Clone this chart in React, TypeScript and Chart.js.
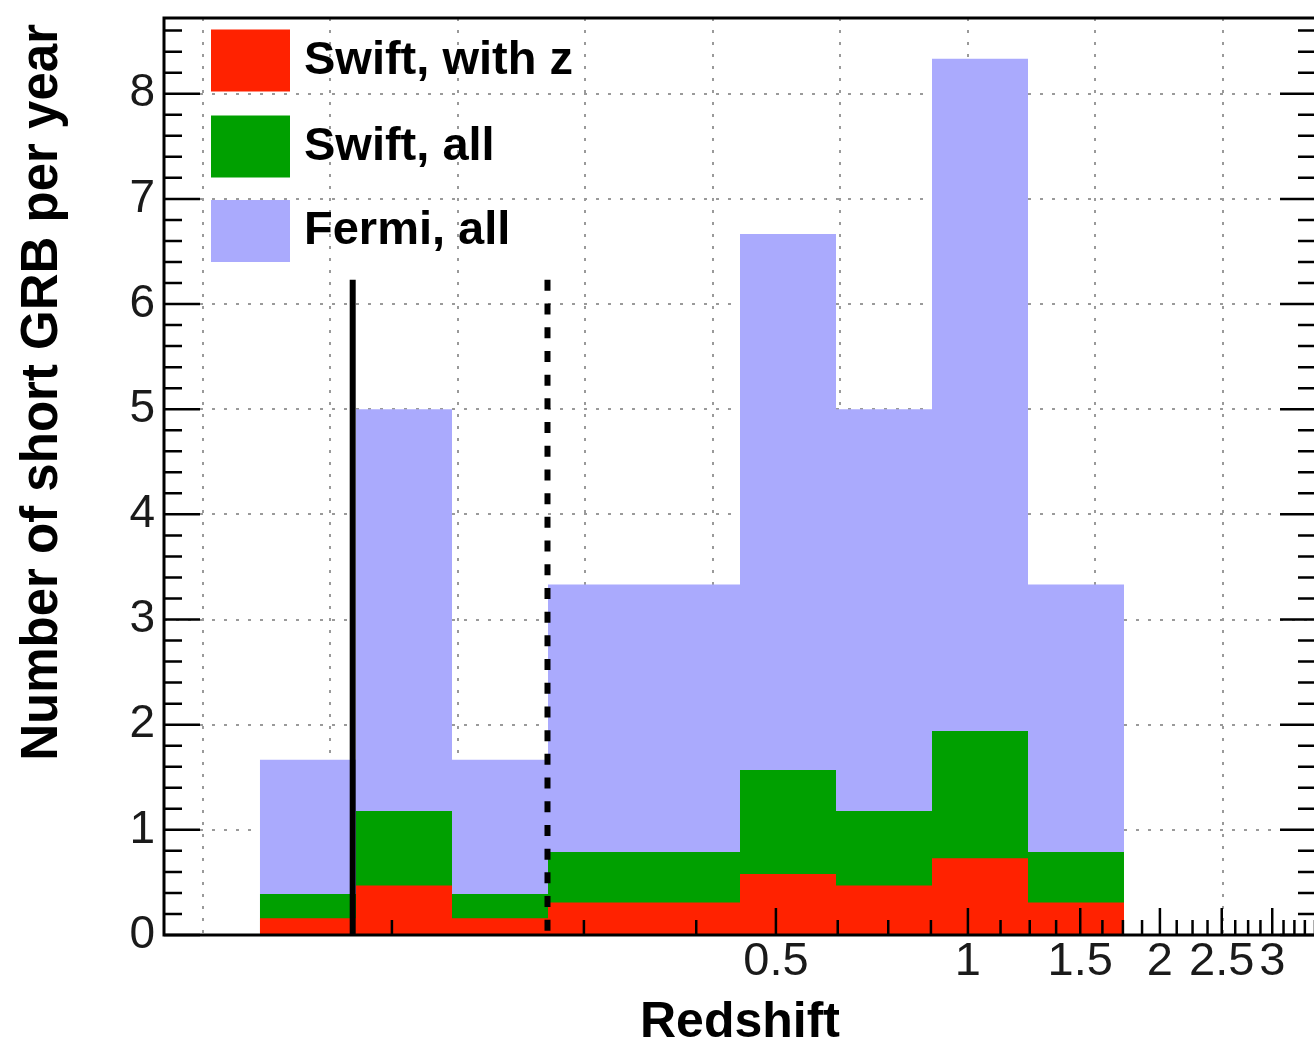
import React, { useEffect, useRef } from 'react';
import { Chart, registerables } from 'chart.js';

Chart.register(...registerables);

// ---- data ----
const binEdges = [0.0776, 0.1098, 0.1553, 0.2196, 0.3106, 0.4392, 0.6211, 0.8784, 1.2422, 1.7568];
const fermiAll = [1.667, 5.0, 1.667, 3.333, 3.333, 6.667, 5.0, 8.333, 3.333];
const swiftAll = [0.39, 1.18, 0.39, 0.79, 0.79, 1.57, 1.18, 1.94, 0.79];
const swiftWithZ = [0.16, 0.47, 0.16, 0.31, 0.31, 0.58, 0.47, 0.73, 0.31];
const seriesLabels = ['Swift, with z', 'Swift, all', 'Fermi, all'];
const seriesColors = ['#ff2200', '#00a000', '#aaaafd'];

const xRange = [0.0549, 3.5136];
const yRange = [0, 8.72];
const xGridValues = [0.0631, 0.1, 0.1585, 0.2512, 0.3981, 0.631, 1, 1.585, 2.512];
const xLabelValues = [0.5, 1, 1.5, 2, 2.5, 3];
const xLabelTexts = ['0.5', '1', '1.5', '2', '2.5', '3'];
const xMinorStep = 0.125;
const yMinorStep = 0.2;
const horizonLines = [0.1085, 0.2192]; // solid, dashed
const horizonTop = 6.23;
const xTitle = 'Redshift';
const yTitle = 'Number of short GRB per year';

const FONT = "'Liberation Sans', Arial, Helvetica, sans-serif";

function steps(values: number[]) {
  const pts = values.map((v, i) => ({ x: binEdges[i], y: v }));
  pts.push({ x: binEdges[values.length], y: values[values.length - 1] });
  return pts;
}

const rootFrame = {
  id: 'rootFrame',
  afterDatasetsDraw(chart: any) {
    const { ctx, chartArea: a, scales } = chart;
    const xs = scales.x;
    const ys = scales.y;
    ctx.save();
    ctx.strokeStyle = '#000';
    ctx.lineCap = 'butt';
    // x ticks (inward, bottom)
    ctx.lineWidth = 2.5;
    for (const t of xs.ticks) {
      const px = xs.getPixelForValue(t.value);
      const len = t.major ? 27 : 15;
      ctx.beginPath();
      ctx.moveTo(px, a.bottom);
      ctx.lineTo(px, a.bottom - len);
      ctx.stroke();
    }
    // y ticks (inward, left and right)
    const nMax = Math.floor(ys.max / yMinorStep + 1e-6);
    for (let n = 0; n <= nMax; n++) {
      const v = n * yMinorStep;
      const py = ys.getPixelForValue(v);
      const len = n % 5 === 0 ? 36 : 18;
      ctx.beginPath();
      ctx.moveTo(a.left, py);
      ctx.lineTo(a.left + len, py);
      ctx.moveTo(a.right, py);
      ctx.lineTo(a.right - len, py);
      ctx.stroke();
    }
    // frame
    ctx.lineWidth = 3;
    ctx.strokeRect(a.left, a.top, a.right - a.left, a.bottom - a.top);

    // legend inside the frame
    const entries = chart.data.datasets.filter((d: any) => seriesLabels.includes(d.label));
    const rowCenters = [60.5, 146.5, 231];
    ctx.font = `bold 47px ${FONT}`;
    ctx.textAlign = 'left';
    ctx.textBaseline = 'alphabetic';
    entries.forEach((d: any, i: number) => {
      const cy = rowCenters[i];
      ctx.fillStyle = d.backgroundColor;
      ctx.fillRect(a.left + 47, cy - 31, 79, 62);
      ctx.fillStyle = '#000';
      ctx.fillText(d.label, a.left + 140, cy + 13);
    });

    // y-axis title (ROOT style, aligned to top end)
    ctx.save();
    ctx.translate(57, 24);
    ctx.rotate(-Math.PI / 2);
    ctx.font = `bold 51px ${FONT}`;
    ctx.textAlign = 'right';
    ctx.textBaseline = 'alphabetic';
    ctx.fillStyle = '#000';
    ctx.fillText(yTitle, 0, 0);
    ctx.restore();

    ctx.restore();
  },
};

export default function App() {
  const ref = useRef<HTMLCanvasElement>(null);

  useEffect(() => {
    const canvas = ref.current!;
    const seriesData = [swiftWithZ, swiftAll, fermiAll];
    const chart = new Chart(canvas, {
      type: 'line',
      data: {
        datasets: [
          {
            label: '_solid',
            data: [{ x: horizonLines[0], y: horizonTop }, { x: horizonLines[0], y: 0 }],
            borderColor: '#000',
            borderWidth: 6,
            pointRadius: 0,
            fill: false,
          },
          {
            label: '_dashed',
            data: [{ x: horizonLines[1], y: horizonTop }, { x: horizonLines[1], y: 0 }],
            borderColor: '#000',
            borderWidth: 6,
            borderDash: [11, 12.7],
            pointRadius: 0,
            fill: false,
          },
          ...seriesData.map((vals, i) => ({
            label: seriesLabels[i],
            data: steps(vals),
            stepped: 'before' as const,
            fill: 'origin',
            backgroundColor: seriesColors[i],
            borderColor: 'rgba(0,0,0,0)',
            borderWidth: 0,
            pointRadius: 0,
          })),
        ] as any,
      },
      options: {
        animation: false,
        responsive: false,
        events: [],
        layout: { padding: { top: 18, right: 2, bottom: 0, left: 0 } },
        plugins: {
          legend: { display: false },
          tooltip: { enabled: false },
        },
        scales: {
          x: {
            type: 'logarithmic',
            position: 'bottom',
            min: xRange[0],
            max: xRange[1],
            bounds: 'data',
            afterBuildTicks: (s: any) => {
              const ticks: any[] = [];
              for (let n = 1; n * xMinorStep <= s.max + 1e-9; n++) {
                const v = n * xMinorStep;
                ticks.push({ value: v, major: xLabelValues.some((l) => Math.abs(l - v) < 1e-9) });
              }
              s.ticks = ticks;
            },
            grid: { display: false, drawTicks: false },
            border: { display: false },
            ticks: {
              autoSkip: false,
              maxRotation: 0,
              minRotation: 0,
              padding: 4,
              color: '#1a1a1a',
              font: { family: FONT, size: 47, lineHeight: 1 },
              callback: (val: any) => {
                const idx = xLabelValues.findIndex((l) => Math.abs(l - Number(val)) < 1e-9);
                return idx >= 0 ? xLabelTexts[idx] : '';
              },
            },
            title: {
              display: true,
              text: xTitle,
              color: '#000',
              font: { family: FONT, size: 50, weight: 'bold', lineHeight: 0.84 },
              padding: { top: 0, bottom: 0 },
            },
            afterFit: (s: any) => {
              s.height = 109;
              s.paddingLeft = 0;
              s.paddingRight = 0;
            },
          } as any,
          xg: {
            type: 'logarithmic',
            position: 'bottom',
            min: xRange[0],
            max: xRange[1],
            bounds: 'data',
            afterBuildTicks: (s: any) => {
              s.ticks = xGridValues.map((v) => ({ value: v }));
            },
            ticks: { display: false },
            grid: { color: '#9a9a9a', lineWidth: 2, drawTicks: false },
            border: { display: false, dash: [3, 9] },
            afterFit: (s: any) => {
              s.height = 0;
              s.paddingLeft = 0;
              s.paddingRight = 0;
            },
          } as any,
          y: {
            type: 'linear',
            min: yRange[0],
            max: yRange[1],
            bounds: 'data',
            ticks: {
              stepSize: 1,
              includeBounds: false,
              padding: 9,
              color: '#1a1a1a',
              font: { family: FONT, size: 46 },
            },
            grid: { color: '#9a9a9a', lineWidth: 2, drawTicks: false },
            border: { display: false, dash: [3, 9] },
            afterFit: (s: any) => {
              s.width = 164;
              s.paddingTop = 0;
              s.paddingBottom = 0;
            },
          } as any,
        },
      } as any,
      plugins: [rootFrame],
    });
    return () => chart.destroy();
  }, []);

  return (
    <div
      style={{
        position: 'fixed',
        left: 0,
        top: 0,
        width: 1314,
        height: 1044,
        overflow: 'hidden',
        background: '#fff',
      }}
    >
      <canvas ref={ref} width={1318} height={1044} style={{ display: 'block', width: 1318, height: 1044 }} />
    </div>
  );
}
